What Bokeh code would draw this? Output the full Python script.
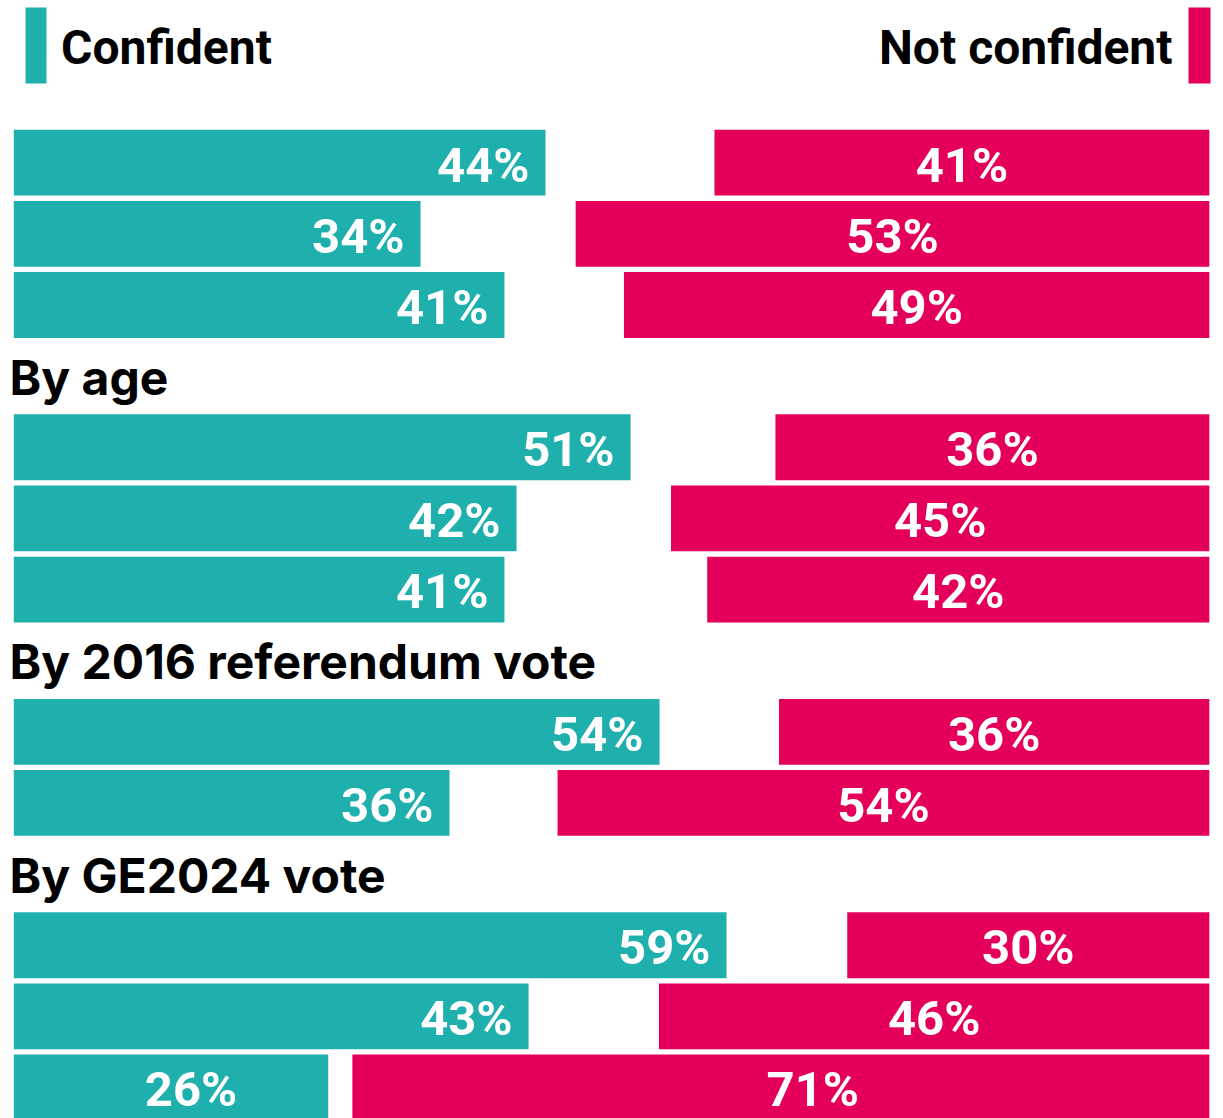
from bokeh.plotting import figure
from bokeh.models import ColumnDataSource, Range1d
from bokeh.core.properties import value
from bokeh.embed import file_html
from bokeh.resources import INLINE

# ---------------- data ----------------
group_titles = ["", "By age", "By 2016 referendum vote", "By GE2024 vote"]
group_sizes = [3, 3, 2, 3]
# bar lengths (unrounded shares)
confident = [44.05, 33.7, 40.65, 51.1, 41.65, 40.65, 53.5, 36.1, 59.05, 42.65, 26.05]
not_confident = [41.0, 52.5, 48.5, 35.95, 44.6, 41.6, 35.65, 54.0, 30.0, 45.6, 71.0]
# printed labels
confident_labels = ["44%", "34%", "41%", "51%", "42%", "41%", "54%", "36%", "59%", "43%", "26%"]
not_confident_labels = ["41%", "53%", "49%", "36%", "45%", "42%", "36%", "54%", "30%", "46%", "71%"]
legend_labels = ["Confident", "Not confident"]

# ---------------- style / layout ----------------
TEAL = "#1fb0ae"
RED = "#e4005a"
W, H = 1223, 1118
PX_PER_PCT = 12.07      # pixels per percentage point
ZERO_PX = 13.3          # left edge of bars
SLOT_PX = 71.14         # row pitch
FIRST_ROW_PX = 162.2    # centre of first row
RIGHT_END = 99.05       # where the red bars end
BAR_H = 0.925
LABEL_FONT = "Roboto"
HEAD_FONT = "Inter"
LABEL_SIZE = 49
LEGEND_SIZE = 48
HEAD_SIZE = 48
BASELINE_FIX = 0.36     # renderer places alphabetic baseline ~0.36em low
# label nudges in pixels (teal: gap from bar end; red: offset from bar centre)
teal_gap_px = [16] * 10 + [91]
red_shift_px = [0] * 10 + [32]


def dx(screen_px):
    return (screen_px - ZERO_PX) / PX_PER_PCT


def dy(screen_px):
    return (screen_px - FIRST_ROW_PX) / SLOT_PX


def base(size):
    return BASELINE_FIX * size / SLOT_PX


# compute slots
row_slots, head_slots, head_texts = [], [], []
slot = 0
for title, n in zip(group_titles, group_sizes):
    if title:
        head_slots.append(slot)
        head_texts.append(title)
        slot += 1
    for _ in range(n):
        row_slots.append(slot)
        slot += 1

src = ColumnDataSource(dict(
    y=row_slots,
    conf=confident,
    nconf=not_confident,
    nleft=[RIGHT_END - v for v in not_confident],
    conf_txt=confident_labels,
    nconf_txt=not_confident_labels,
    conf_lx=[v - g / PX_PER_PCT for v, g in zip(confident, teal_gap_px)],
    nconf_lx=[RIGHT_END - v / 2 + s / PX_PER_PCT for v, s in zip(not_confident, red_shift_px)],
    label_y=[s + 20 / SLOT_PX - base(LABEL_SIZE) for s in row_slots],
))

x0 = -ZERO_PX / PX_PER_PCT
y_top = -FIRST_ROW_PX / SLOT_PX
y_bottom = y_top + H / SLOT_PX

p = figure(width=W, height=H,
           x_range=Range1d(x0, x0 + W / PX_PER_PCT),
           y_range=Range1d(y_bottom, y_top),
           output_backend="svg", toolbar_location=None,
           x_axis_location=None, y_axis_location=None,
           min_border=0)
p.grid.visible = False
p.outline_line_color = None
p.background_fill_color = "white"
p.border_fill_color = "white"

p.hbar(y="y", left=0, right="conf", height=BAR_H, source=src,
       fill_color=TEAL, line_color=None)
p.hbar(y="y", left="nleft", right=RIGHT_END, height=BAR_H, source=src,
       fill_color=RED, line_color=None)

p.text(x="conf_lx", y="label_y", text="conf_txt", source=src,
       text_align="right", text_baseline="alphabetic",
       text_color="white", text_font=value(LABEL_FONT),
       text_font_style="bold", text_font_size=f"{LABEL_SIZE}px")
p.text(x="nconf_lx", y="label_y", text="nconf_txt", source=src,
       text_align="center", text_baseline="alphabetic",
       text_color="white", text_font=value(LABEL_FONT),
       text_font_style="bold", text_font_size=f"{LABEL_SIZE}px")

# group headings
hsrc = ColumnDataSource(dict(
    x=[dx(9)] * len(head_slots),
    y=[s + 0.26 - base(HEAD_SIZE) for s in head_slots],
    t=head_texts,
))
p.text(x="x", y="y", text="t", source=hsrc,
       text_align="left", text_baseline="alphabetic",
       text_color="#000000", text_font=value(HEAD_FONT),
       text_font_style="bold", text_font_size=f"{HEAD_SIZE}px")

# legend
p.quad(left=[dx(25), dx(1188)], right=[dx(46), dx(1210)],
       top=[dy(7), dy(7)], bottom=[dy(83), dy(83)],
       fill_color=[TEAL, RED], line_color=None)
p.text(x=[dx(60.6)], y=[dy(64) - base(LEGEND_SIZE)], text=[legend_labels[0]],
       text_align="left", text_baseline="alphabetic",
       text_color="#000000", text_font=value(LABEL_FONT),
       text_font_style="bold", text_font_size=f"{LEGEND_SIZE}px")
p.text(x=[dx(1172)], y=[dy(64) - base(LEGEND_SIZE)], text=[legend_labels[1]],
       text_align="right", text_baseline="alphabetic",
       text_color="#000000", text_font=value(LABEL_FONT),
       text_font_style="bold", text_font_size=f"{LEGEND_SIZE}px")

open("out.html", "w").write(file_html(p, INLINE))
